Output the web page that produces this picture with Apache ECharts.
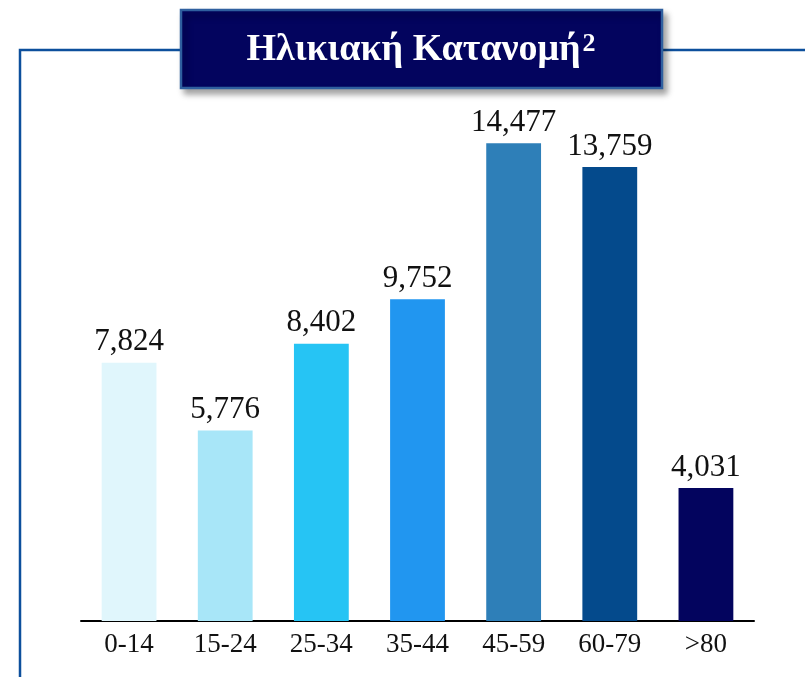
<!DOCTYPE html>
<html>
<head>
<meta charset="utf-8">
<script src="https://cdn.jsdelivr.net/npm/echarts@6/dist/echarts.min.js"></script>
<style>
html, body { margin: 0; padding: 0; background: #fff; }
#chart { width: 805px; height: 677px; }
</style>
</head>
<body>
<div id="chart"></div>
<script>
// 年龄分组
var ageGroups = ['0-14', '15-24', '25-34', '35-44', '45-59', '60-79', '>80'];
// 人数
var population = [7824, 5776, 8402, 9752, 14477, 13759, 4031];
var barColors = ['#e0f6fc', '#a8e6f8', '#26c4f4', '#2196f0', '#2e7fb8', '#044a8c', '#03045e'];

var myChart = echarts.init(document.getElementById('chart'));

var option = {
	backgroundColor : '#fff',
	animation : false,
	grid : {
		left : 81,
		right : 51,
		top : 126,
		bottom : 56
	},
	xAxis : {
		type : 'category',
		data : ageGroups,
		axisLine : {
			lineStyle : { color : '#000', width : 2 }
		},
		axisTick : { show : false },
		axisLabel : {
			fontFamily : 'Liberation Serif',
			fontSize : 27,
			color : '#111',
			margin : 10
		}
	},
	yAxis : {
		type : 'value',
		min : 0,
		max : 15000,
		show : false
	},
	series : [ {
		type : 'bar',
		barWidth : '57%',
		data : population.map(function(v, i) {
			return { value : v, itemStyle : { color : barColors[i] } };
		}),
		label : {
			show : true,
			position : 'top',
			distance : 5,
			fontFamily : 'Liberation Serif',
			fontSize : 31,
			color : '#111',
			formatter : function(p) {
				return p.value.toLocaleString('en-US');
			}
		}
	} ],
	graphic : [
		// 外框线
		{
			type : 'polyline',
			z : 1,
			shape : { points : [ [ 20, 677 ], [ 20, 50 ], [ 805, 50 ] ] },
			style : { stroke : '#0d4f9c', lineWidth : 2.5, fill : null }
		},
		// 标题框
		{
			type : 'rect',
			z : 10,
			shape : { x : 181, y : 10, width : 481, height : 78 },
			style : {
				fill : '#03045e',
				stroke : '#2f5f9f',
				lineWidth : 2.5,
				shadowBlur : 6,
				shadowOffsetX : 4,
				shadowOffsetY : 5,
				shadowColor : 'rgba(0,0,0,0.35)'
			}
		},
		{
			type : 'text',
			z : 11,
			x : 421,
			y : 50,
			style : {
				text : '{a|Ηλικιακή Κατανομή}{b|2}',
				align : 'center',
				verticalAlign : 'middle',
				rich : {
					a : {
						fontFamily : 'Liberation Serif',
						fontWeight : 'bold',
						fontSize : 38,
						fill : '#fff',
						color : '#fff'
					},
					b : {
						fontFamily : 'Liberation Serif',
						fontWeight : 'bold',
						fontSize : 26,
						fill : '#fff',
						color : '#fff',
						verticalAlign : 'top',
						padding : [ 0, 0, 12, 2 ]
					}
				}
			}
		}
	]
};

myChart.setOption(option);
</script>
</body>
</html>
